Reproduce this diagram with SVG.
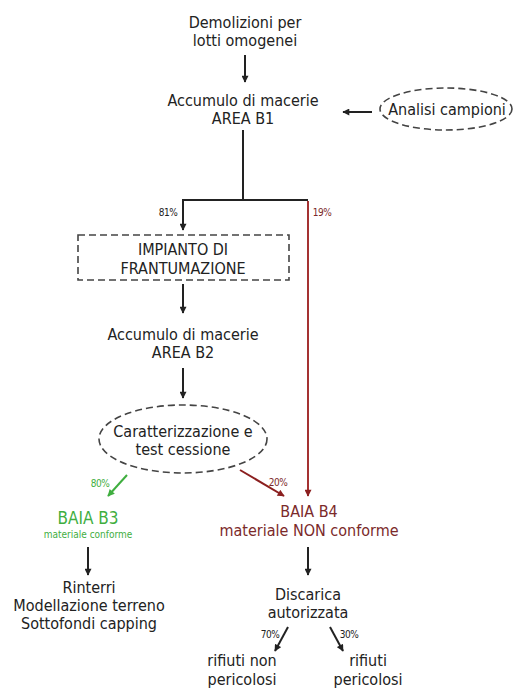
<svg xmlns="http://www.w3.org/2000/svg" width="519" height="691" viewBox="0 0 519 691">
<style>
.t{font-family:"DejaVu Sans Condensed","Liberation Sans",sans-serif;font-size:16px;fill:#222;text-anchor:middle}
.s{font-family:"DejaVu Sans Condensed","Liberation Sans",sans-serif;font-size:10px;fill:#222;text-anchor:middle;letter-spacing:-0.5px}
.g{fill:#3fae3f}
.r{fill:#7b2a2a}
.ln{stroke:#222;stroke-width:2;fill:none}
.dash{stroke:#444;stroke-width:1.6;fill:none;stroke-dasharray:7 4}
</style>
<defs>
<marker id="ak" viewBox="0 0 10 10" refX="9" refY="5" markerWidth="8" markerHeight="7" orient="auto" markerUnits="userSpaceOnUse"><path d="M0,0 L10,5 L0,10 z" fill="#222"/></marker>
<marker id="ar" viewBox="0 0 10 10" refX="9" refY="5" markerWidth="8" markerHeight="7" orient="auto" markerUnits="userSpaceOnUse"><path d="M0,0 L10,5 L0,10 z" fill="#8b1f1f"/></marker>
<marker id="ag" viewBox="0 0 10 10" refX="9" refY="5" markerWidth="8" markerHeight="7" orient="auto" markerUnits="userSpaceOnUse"><path d="M0,0 L10,5 L0,10 z" fill="#3fae3f"/></marker>
</defs>
<g id="n-demolizioni"><text class="t" x="245" y="28">Demolizioni per</text><text class="t" x="245" y="46">lotti omogenei</text></g>
<g id="n-b1"><text class="t" x="243" y="106">Accumulo di macerie</text><text class="t" x="243" y="124">AREA B1</text></g>
<g id="n-analisi"><ellipse class="dash" cx="446" cy="109" rx="66" ry="21"/><text class="t" x="447" y="115">Analisi campioni</text></g>
<g id="n-impianto"><rect class="dash" x="78" y="235" width="211" height="45"/><text class="t" x="183" y="255">IMPIANTO DI</text><text class="t" x="183" y="274">FRANTUMAZIONE</text></g>
<g id="n-b2"><text class="t" x="183" y="340">Accumulo di macerie</text><text class="t" x="183" y="358">AREA B2</text></g>
<g id="n-caratt"><ellipse class="dash" cx="183" cy="439" rx="84" ry="34"/><text class="t" x="183" y="437">Caratterizzazione e</text><text class="t" x="183" y="455">test cessione</text></g>
<g id="n-b3"><text class="t g" x="88" y="524" style="font-size:17px">BAIA B3</text><text class="t g" x="88" y="538" style="font-size:10px">materiale conforme</text></g>
<g id="n-b4"><text class="t r" x="309" y="517">BAIA B4</text><text class="t r" x="309" y="536">materiale NON conforme</text></g>
<g id="n-rinterri"><text class="t" x="89" y="593">Rinterri</text><text class="t" x="89" y="611">Modellazione terreno</text><text class="t" x="89" y="629">Sottofondi capping</text></g>
<g id="n-discarica"><text class="t" x="308" y="600">Discarica</text><text class="t" x="308" y="618">autorizzata</text></g>
<g id="n-nonpericolosi"><text class="t" x="242" y="666">rifiuti non</text><text class="t" x="242" y="685">pericolosi</text></g>
<g id="n-pericolosi"><text class="t" x="368" y="666">rifiuti</text><text class="t" x="368" y="685">pericolosi</text></g>
<g id="connectors">
<line class="ln" x1="245" y1="55" x2="245" y2="82" marker-end="url(#ak)"/>
<line class="ln" x1="372" y1="112" x2="343" y2="112" marker-end="url(#ak)"/>
<polyline class="ln" points="243,130 243,200"/>
<polyline class="ln" points="183,200 308,200"/>
<line class="ln" x1="183" y1="199" x2="183" y2="230" marker-end="url(#ak)"/>
<line x1="308" y1="201" x2="308" y2="496" stroke="#9b1c1c" stroke-width="1.8" marker-end="url(#ar)"/>
<line class="ln" x1="183" y1="284" x2="183" y2="313" marker-end="url(#ak)"/>
<line class="ln" x1="183" y1="368" x2="183" y2="398" marker-end="url(#ak)"/>
<line x1="127" y1="475" x2="108" y2="496" stroke="#3fae3f" stroke-width="2" marker-end="url(#ag)"/>
<line x1="240" y1="470" x2="284" y2="496" stroke="#8b1f1f" stroke-width="2" marker-end="url(#ar)"/>
<line class="ln" x1="88" y1="547" x2="88" y2="575" marker-end="url(#ak)"/>
<line class="ln" x1="308" y1="547" x2="308" y2="575" marker-end="url(#ak)"/>
<line class="ln" x1="288" y1="627" x2="275" y2="651" marker-end="url(#ak)"/>
<line class="ln" x1="330" y1="627" x2="343" y2="651" marker-end="url(#ak)"/>
<text class="s" x="168" y="216">81%</text>
<text class="s r" x="322" y="216">19%</text>
<text class="s g" x="100" y="487">80%</text>
<text class="s r" x="278" y="486">20%</text>
<text class="s" x="270" y="638">70%</text>
<text class="s" x="349" y="638">30%</text>
</g>
</svg>
